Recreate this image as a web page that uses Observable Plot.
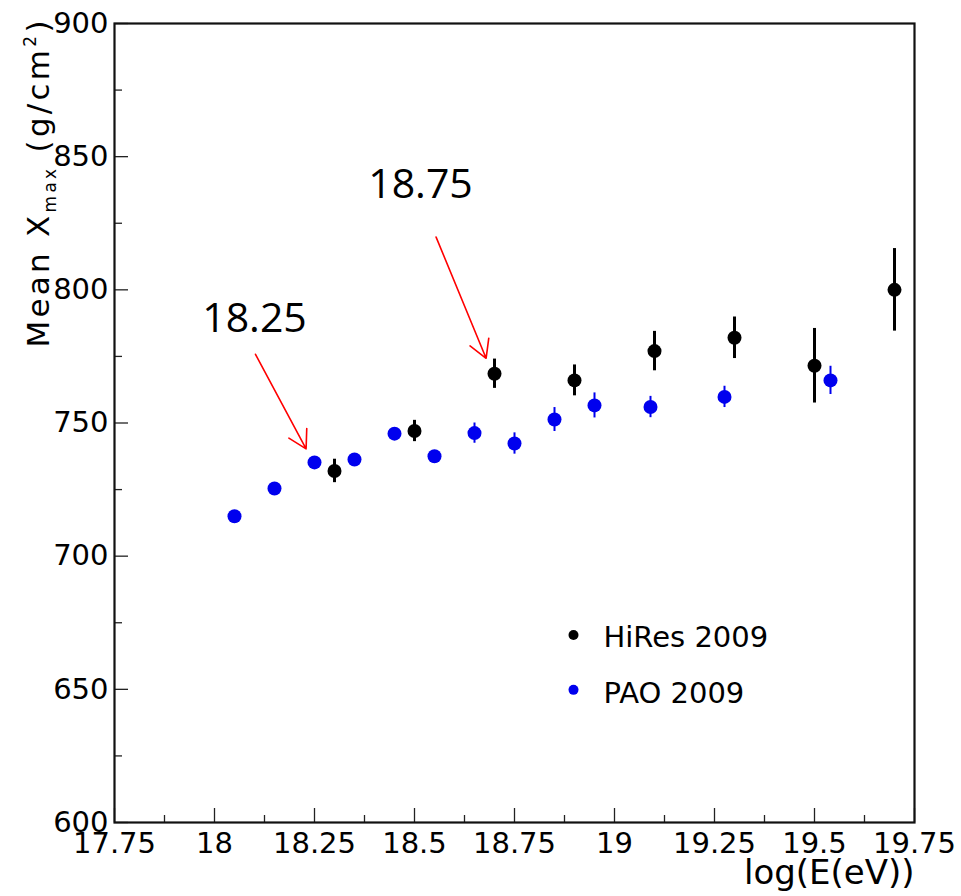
<!DOCTYPE html>
<html>
<head>
<meta charset="utf-8">
<script src="https://cdn.jsdelivr.net/npm/d3@7"></script>
<script src="https://cdn.jsdelivr.net/npm/@observablehq/plot@0.6"></script>
<style>
  html, body { margin: 0; padding: 0; background: #fff; }
  svg { display: block; }
</style>
</head>
<body>
<div id="chart"></div>
<script>
// ---- data ----
const hiresX = [18.3, 18.5, 18.7, 18.9, 19.1, 19.3, 19.5, 19.7];
const hiresY = [732, 747, 768.5, 766, 777, 782, 771.5, 800];
const hiresErr = [4.4, 4, 5.5, 5.8, 7.4, 7.8, 14, 15.5];

const paoX = [18.05, 18.15, 18.25, 18.35, 18.45, 18.55, 18.65, 18.75, 18.85, 18.95, 19.09, 19.275, 19.54];
const paoY = [715, 725.4, 735.2, 736.3, 746, 737.5, 746.2, 742.3, 751.3, 756.6, 756, 759.8, 766];
const paoErr = [2, 2, 2, 2, 2, 2, 3.8, 4, 4.5, 4.7, 4, 4, 5.3];

const xMajor = [17.75, 18, 18.25, 18.5, 18.75, 19, 19.25, 19.5, 19.75];
const xMinor = [17.875, 18.125, 18.375, 18.625, 18.875, 19.125, 19.375, 19.625];
const yMajor = [600, 650, 700, 750, 800, 850, 900];
const yMinor = [625, 675, 725, 775, 825, 875];

const seriesNames = ["HiRes 2009", "PAO 2009"];
const noteLabels = ["18.25", "18.75"];
const xLabel = "log(E(eV))";
const yLabel = "Mean Xmax (g/cm2)";

// ---- layout (annotation / legend anchor points in data units) ----
const notePos = [{x: 18.10, y: 784}, {x: 18.515, y: 834.6}];
const arrowPos = [
  {x1: 18.1025, y1: 775.8, x2: 18.229, y2: 740.3},
  {x1: 18.554, y1: 819.8, x2: 18.679, y2: 774.3}
];
const legendPos = [{x: 18.8975, y: 670.4, ty: 665.9}, {x: 18.8975, y: 649.8, ty: 644.9}];

const blue = "#0000ee";
const hires = hiresX.map((x, i) => ({x, y: hiresY[i], e: hiresErr[i]}));
const pao = paoX.map((x, i) => ({x, y: paoY[i], e: paoErr[i]}));
const notes = noteLabels.map((t, i) => ({text: t, ...notePos[i]}));
const legend = seriesNames.map((name, i) => ({name, color: i === 0 ? "black" : blue, ...legendPos[i]}));

const tickStyle = {stroke: "#222", strokeWidth: 1.3, fill: "none", label: null};

const chart = Plot.plot({
  width: 961,
  height: 896,
  marginLeft: 114,
  marginRight: 47,
  marginTop: 23,
  marginBottom: 74,
  x: {domain: [17.75, 19.75]},
  y: {domain: [600, 900]},
  style: {fontFamily: "DejaVu Sans", background: "white", color: "black"},
  marks: [
    Plot.axisX({ticks: xMajor, tickSize: -14, ...tickStyle}),
    Plot.axisX({ticks: xMinor, tickSize: -7, ...tickStyle}),
    Plot.axisY({ticks: yMajor, tickSize: -14, ...tickStyle}),
    Plot.axisY({ticks: yMinor, tickSize: -8, ...tickStyle}),
    Plot.axisX({ticks: xMajor, tickSize: 0, tickPadding: 10, fontSize: 29, tickFormat: d => String(d), label: null, fill: "black"}),
    Plot.axisY({ticks: yMajor, tickSize: 0, tickPadding: 6, fontSize: 29, tickFormat: d => String(d), label: null, fill: "black"}),
    Plot.frame({stroke: "#111", strokeWidth: 2.2}),
    Plot.ruleX(pao, {x: "x", y1: d => d.y - d.e, y2: d => d.y + d.e, stroke: blue, strokeWidth: 2}),
    Plot.dot(pao, {x: "x", y: "y", r: 7, fill: blue}),
    Plot.ruleX(hires, {x: "x", y1: d => d.y - d.e, y2: d => d.y + d.e, stroke: "black", strokeWidth: 3}),
    Plot.dot(hires, {x: "x", y: "y", r: 7, fill: "black"}),
    Plot.arrow(arrowPos, {x1: "x1", y1: "y1", x2: "x2", y2: "y2", stroke: "#ff0000", strokeWidth: 1.6, headLength: 19, headAngle: 60}),
    Plot.text(notes, {x: "x", y: "y", text: "text", fontSize: 41, fontFamily: "Open Sans", textAnchor: "middle", lineAnchor: "bottom", fill: "black"}),
    Plot.dot(legend, {x: "x", y: "y", r: 5, fill: "color"}),
    Plot.text(legend, {x: "x", y: "ty", text: "name", dx: 30, fontSize: 29, textAnchor: "start", lineAnchor: "bottom", fill: "black"}),
    Plot.text([xLabel], {frameAnchor: "bottom-right", textAnchor: "end", lineAnchor: "bottom", dy: 61, fontSize: 34, fill: "black"}),
    Plot.text([yLabel], {frameAnchor: "top-left", rotate: -90, textAnchor: "end", lineAnchor: "bottom", dx: -66, dy: -3, fontSize: 31, fill: "black"})
  ]
});

document.getElementById("chart").append(chart);

// y label with subscript / superscript
d3.select(chart).selectAll("text").filter(function () { return this.textContent === yLabel; }).each(function () {
  const t = d3.select(this);
  t.text(null);
  t.append("tspan").text("Mean X");
  t.append("tspan").attr("font-size", "17px").attr("baseline-shift", "-7px").text("max");
  t.append("tspan").text(" (g/cm");
  t.append("tspan").attr("font-size", "17px").attr("baseline-shift", "13px").text("2");
  t.append("tspan").text(")");
  t.attr("textLength", 327).attr("lengthAdjust", "spacing");
});
</script>
</body>
</html>
